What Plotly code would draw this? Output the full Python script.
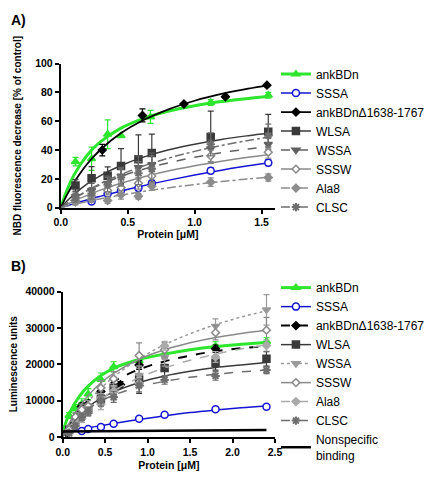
import plotly.graph_objects as go

# ---------------- Panel A data (NBD fluorescence decrease) ----------------
xA = [0.11, 0.23, 0.35, 0.45, 0.58, 0.68, 1.12, 1.55]
xA_green = [0.11, 0.23, 0.35, 0.45, 0.67, 1.12, 1.55]
xA_black = [0.31, 0.61, 0.92, 1.23, 1.54]

A_ankBDn = [32, 34, 51, 50, 63, 73, 78]
A_ankBDn_err = [3, 8, 10, 0, 4.5, 2, 2]
A_SSSA = [None, 4.3, 9.7, 12.2, 13.8, 17, 25.7, 31.3]
A_SSSA_err = [0, 1.5, 1.5, 1.5, 2, 2, 2, 2]
A_delta = [40, 64, 72, 77, 85]
A_delta_err = [4, 4.5, 1, 1, 1]
A_WLSA = [15.5, 20.5, 22.3, 29, 33.6, 38, 49, 52.7]
A_WLSA_err = [4, 8, 6, 12, 17, 13, 18, 12]
A_WSSA = [8, 12, 17, 22, 28, 30, 41, 44]
A_WSSA_err = [3, 5, 5, 6, 8, 8, 6, 5]
A_SSSW = [5, 8, 12, 14, 17, 22, 36, 38.5]
A_SSSW_err = [2, 3, 3, 4, 4, 5, 4, 4]
A_Ala8 = [4, 6, 5, 9, 8, 15, 17.8, 21]
A_Ala8_err = [2, 2, 2, 3, 2, 3, 3, 2.5]
A_CLSC = [7, 10, 16, 21, 24, 27, 44, 50]
A_CLSC_err = [3, 4, 5, 6, 8, 9, 8, 8]

# fitted curves
fitxA = [0, 0.05, 0.1, 0.2, 0.3, 0.45, 0.6, 0.8, 1.0, 1.2, 1.4, 1.55]
fitA_ankBDn = [0, 13.1, 23, 36.8, 46, 55.2, 61.3, 66.9, 70.8, 73.6, 75.8, 77.1]
fitA_delta = [0, 9.6, 17.7, 30.7, 40.6, 51.8, 60, 68.1, 74.2, 78.9, 82.6, 84.9]
fitA_WLSA = [0, 5, 9.4, 16.7, 22.5, 29.3, 34.6, 40, 44.1, 47.4, 50, 51.7]
fitA_WSSA = [0, 3.3, 6.4, 11.7, 16.2, 21.7, 26.3, 31.1, 35, 38.2, 40.8, 42.5]
fitA_CLSC = [0, 3.3, 6.4, 12, 16.9, 23.1, 28.4, 34.3, 39.1, 43.2, 46.7, 48.9]
fitA_SSSW = [0, 2.4, 4.7, 8.75, 12.4, 17, 21, 25.5, 29.2, 32.3, 35, 36.8]
fitA_SSSA = [0, 1.45, 2.9, 5.6, 8.1, 11.7, 15, 19, 22.7, 26.1, 29.2, 31.3]
fitA_Ala8 = [0, 1.16, 2.27, 4.35, 6.25, 8.8, 11.1, 13.8, 16.1, 18.2, 20, 21.2]

# ---------------- Panel B data (Luminescence) ----------------
xB = [0.075, 0.15, 0.225, 0.3, 0.45, 0.6, 0.9, 1.2, 1.8, 2.4]
xB_black = [0.05, 0.11, 0.17, 0.22, 0.45, 0.68, 0.9, 1.8]

B_ankBDn = [5900, 7700, 9100, 11800, 15800, 19300, 21000, 23000, 25000, 26300]
B_ankBDn_err = [800, 1200, 1400, 1500, 1800, 1400, 1200, 1200, 1200, 1000]
B_SSSA = [1900, None, 1600, 2200, 2700, 3600, 5000, 6100, 7600, 8300]
B_SSSA_err = [300, 0, 300, 300, 300, 300, 300, 300, 300, 300]
B_delta = [1000, 3200, 5900, 8400, 12500, 14400, 19800, 24300]
B_delta_err = [500, 600, 800, 900, 1200, 800, 1200, 1000]
B_WLSA = [2000, 4500, 6500, 7500, 10500, 13500, 15800, 19000, 20400, 21500]
B_WLSA_err = [800, 1200, 1500, 1500, 2000, 2000, 3800, 2500, 2000, 2000]
B_WSSA = [1500, 4000, 6000, 7500, 10500, 12000, 17000, 22000, 30500, 35000]
B_WSSA_err = [600, 1000, 1200, 1500, 1500, 1800, 2500, 2500, 2000, 4200]
B_SSSW = [2000, 5500, 7500, 8500, 13500, 16000, 22400, 24000, 28700, 29400]
B_SSSW_err = [700, 1200, 1500, 1500, 2000, 2000, 3500, 2000, 2000, 3500]
B_Ala8 = [1200, 3500, 5000, 7000, 9000, 12600, 14800, 25100, 22000, 25150]
B_Ala8_err = [500, 800, 1000, 1200, 1500, 1500, 1500, 1200, 1500, 1500]
B_CLSC = [1000, 3000, 5500, 7000, 10000, 11000, 14200, 15700, 16800, 18400]
B_CLSC_err = [500, 800, 1000, 1200, 1500, 1500, 1800, 1200, 1200, 1000]

fitxB = [0, 0.05, 0.1, 0.2, 0.3, 0.45, 0.6, 0.9, 1.2, 1.5, 1.8, 2.1, 2.4]
fitB_ankBDn = [1500, 4800, 7500, 11300, 14000, 16900, 18900, 21300, 22800, 24000, 24900, 25500, 26000]
fitB_SSSA = [1300, 1500, 1700, 2100, 2500, 3100, 3700, 4800, 5800, 6700, 7400, 8000, 8500]
fitB_delta = [500, 2600, 4500, 7600, 10100, 13000, 15300, 18600, 20800, 22400, 23600, 24400, 25000]
fitB_WLSA = [500, 2200, 3800, 6300, 8300, 10600, 12400, 15000, 16800, 18100, 19100, 19800, 20500]
fitB_WSSA = [0, 1900, 3700, 6900, 9700, 13400, 16500, 21500, 25400, 28400, 30900, 33000, 34700]
fitB_SSSW = [0, 2500, 4750, 8400, 11400, 14900, 17500, 21400, 24000, 25900, 27400, 28500, 29400]
fitB_Ala8 = [0, 1500, 2900, 5400, 7600, 10400, 12700, 16300, 19000, 21100, 22800, 24200, 25300]
fitB_CLSC = [0, 1770, 3290, 5750, 7670, 9860, 11500, 13800, 15300, 16400, 17250, 17900, 18400]
nsx = [0, 2.4]
nsy = [1500, 1900]

GREEN = '#2ee62e'
BLUE = '#1414d2'
FONT = 'Liberation Sans, Arial, sans-serif'

fig = go.Figure()


def add_series(name, x, y, err, fx, fy, color, symbol, open_marker, dash, lw,
               xa, ya, legend):
    msize = 6 if 'diamond' in symbol else 7
    mline = dict(color=color, width=1.5)
    mcolor = 'white' if open_marker else color
    if symbol.startswith('asterisk'):
        mline = dict(color=color, width=2)
    # fitted curve
    fig.add_trace(go.Scatter(x=fx, y=fy, mode='lines', line=dict(color=color, width=lw, dash=dash, shape='spline'),
                             showlegend=False, xaxis=xa, yaxis=ya, hoverinfo='skip'))
    # data points
    fig.add_trace(go.Scatter(x=x, y=y, mode='markers',
                             marker=dict(symbol=symbol, size=msize, color=mcolor, line=mline),
                             error_y=dict(type='data', array=err, color=color, thickness=1.2, width=3),
                             showlegend=False, xaxis=xa, yaxis=ya))
    # legend entry
    fig.add_trace(go.Scatter(x=[None], y=[None], mode='lines+markers', name=name,
                             line=dict(color=color, width=lw, dash=dash),
                             marker=dict(symbol=symbol, size=msize, color=mcolor, line=mline),
                             xaxis=xa, yaxis=ya, legend=legend))


# Panel A
A = [
    ('ankBDn', xA_green, A_ankBDn, A_ankBDn_err, fitA_ankBDn, GREEN, 'triangle-up', False, 'solid', 3),
    ('SSSA', xA, A_SSSA, A_SSSA_err, fitA_SSSA, BLUE, 'circle', True, 'solid', 1.5),
    ('ankBDn\u03941638-1767', xA_black, A_delta, A_delta_err, fitA_delta, '#000000', 'diamond', False, 'solid', 1.8),
    ('WLSA', xA, A_WLSA, A_WLSA_err, fitA_WLSA, '#3a3a3a', 'square', False, 'solid', 1.5),
    ('WSSA', xA, A_WSSA, A_WSSA_err, fitA_WSSA, '#606060', 'triangle-down', False, 'dash', 1.5),
    ('SSSW', xA, A_SSSW, A_SSSW_err, fitA_SSSW, '#8a8a8a', 'diamond', True, 'solid', 1.5),
    ('Ala8', xA, A_Ala8, A_Ala8_err, fitA_Ala8, '#8c8c8c', 'diamond', False, 'dashdot', 1.5),
    ('CLSC', xA, A_CLSC, A_CLSC_err, fitA_CLSC, '#6e6e6e', 'asterisk-open', False, 'dashdot', 1.5),
]
for (n, x, y, e, fy, c, s, o, d, w) in A:
    add_series(n, x, y, e, fitxA, fy, c, s, o, d, w, 'x', 'y', 'legend')

# Panel B
B = [
    ('ankBDn', xB, B_ankBDn, B_ankBDn_err, fitB_ankBDn, GREEN, 'triangle-up', False, 'solid', 3),
    ('SSSA', xB, B_SSSA, B_SSSA_err, fitB_SSSA, BLUE, 'circle', True, 'solid', 1.5),
    ('ankBDn\u03941638-1767', xB_black, B_delta, B_delta_err, fitB_delta, '#000000', 'diamond', False, 'dash', 2),
    ('WLSA', xB, B_WLSA, B_WLSA_err, fitB_WLSA, '#3a3a3a', 'square', False, 'solid', 1.5),
    ('WSSA', xB, B_WSSA, B_WSSA_err, fitB_WSSA, '#9a9a9a', 'triangle-down', False, 'dot', 1.5),
    ('SSSW', xB, B_SSSW, B_SSSW_err, fitB_SSSW, '#8a8a8a', 'diamond', True, 'solid', 1.5),
    ('Ala8', xB, B_Ala8, B_Ala8_err, fitB_Ala8, '#aaaaaa', 'diamond', False, 'dash', 1.5),
    ('CLSC', xB, B_CLSC, B_CLSC_err, fitB_CLSC, '#6e6e6e', 'asterisk-open', False, 'dash', 1.5),
]
for (n, x, y, e, fy, c, s, o, d, w) in B:
    add_series(n, x, y, e, fitxB, fy, c, s, o, d, w, 'x2', 'y2', 'legend2')

fig.add_trace(go.Scatter(x=nsx, y=nsy, mode='lines', line=dict(color='black', width=2.5),
                         name='Nonspecific<br>binding', xaxis='x2', yaxis='y2', legend='legend2'))

W, H = 430, 478
tickfont = dict(family=FONT, size=10.5, color='black', weight='bold')
titlefont = dict(family=FONT, size=10.5, color='black', weight='bold')
ytitlefont = dict(family=FONT, size=10, color='black', weight='bold')
axis_common = dict(showline=True, linecolor='black', linewidth=2, ticks='outside', ticklen=4,
                   tickwidth=1.5, tickcolor='black', showgrid=False, zeroline=False,
                   tickfont=tickfont, mirror=False)

fig.update_layout(
    width=W, height=H, margin=dict(l=0, r=0, t=0, b=0),
    paper_bgcolor='white', plot_bgcolor='white',
    xaxis=dict(domain=[56 / W, 279 / W], range=[0, 1.6], tickvals=[0, 0.5, 1.0, 1.5], tickformat='.1f',
               anchor='y', title=dict(text='Protein [\u03bcM]', font=titlefont, standoff=3), **axis_common),
    yaxis=dict(domain=[1 - 207 / H, 1 - 59 / H], range=[0, 100], tickvals=[0, 20, 40, 60, 80, 100],
               anchor='x', title=dict(text='NBD fluorescence decrease [% of control]', font=ytitlefont, standoff=12),
               **axis_common),
    xaxis2=dict(domain=[58 / W, 279 / W], range=[0, 2.5], tickvals=[0, 0.5, 1.0, 1.5, 2.0, 2.5], tickformat='.1f',
                anchor='y2', title=dict(text='Protein [\u03bcM]', font=titlefont, standoff=5), **axis_common),
    yaxis2=dict(domain=[1 - 442 / H, 1 - 293 / H], range=[0, 40000], tickvals=[0, 10000, 20000, 30000, 40000],
                tickformat='d', anchor='x2',
                title=dict(text='Luminescence units', font=ytitlefont, standoff=6), **axis_common),
    legend=dict(x=280 / W, y=1 - 55 / H, xanchor='left', yanchor='top', font=dict(family=FONT, size=12, color='black'),
                bgcolor='rgba(0,0,0,0)', itemwidth=30, tracegroupgap=0),
    legend2=dict(x=280 / W, y=1 - 274 / H, xanchor='left', yanchor='top', font=dict(family=FONT, size=12, color='black'),
                 bgcolor='rgba(0,0,0,0)', itemwidth=30, tracegroupgap=0),
    annotations=[
        dict(text='A)', x=2 / W, y=1 - 4 / H, xref='paper', yref='paper', xanchor='left', yanchor='top',
             showarrow=False, font=dict(family=FONT, size=14, color='black', weight='bold')),
        dict(text='B)', x=2 / W, y=1 - 256 / H, xref='paper', yref='paper', xanchor='left', yanchor='top',
             showarrow=False, font=dict(family=FONT, size=14, color='black', weight='bold')),
    ],
)

fig.write_html('out.html', config={'displayModeBar': False},
               post_script="document.body.style.margin='0';")
